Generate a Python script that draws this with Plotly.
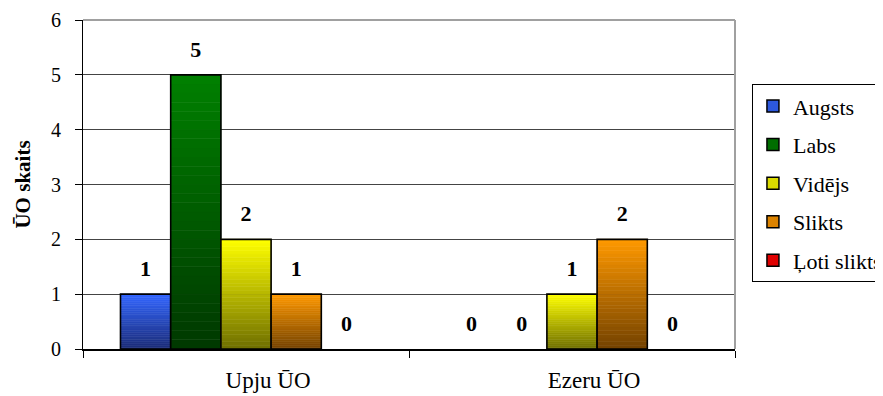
import plotly.graph_objects as go

categories = ["Upju ŪO", "Ezeru ŪO"]
series_names = ["Augsts", "Labs", "Vidējs", "Slikts", "Ļoti slikts"]
augsts = [1, 0]
labs = [5, 0]
videjs = [2, 1]
slikts = [1, 2]
loti_slikts = [0, 0]
y_ticks = [0, 1, 2, 3, 4, 5, 6]

series_values = [augsts, labs, videjs, slikts, loti_slikts]
# (top colour, bottom colour) of each gradient
gradients = [
    ((51, 102, 255), (28, 44, 118)),
    ((0, 128, 0), (0, 56, 0)),
    ((255, 255, 0), (110, 110, 0)),
    ((255, 153, 0), (115, 66, 0)),
    ((255, 0, 0), (128, 0, 0)),
]

FONT = "Liberation Serif"
N_SEG = 30
LABEL_BOX = 0.94


def lerp(c_bottom, c_top, t):
    return "rgb(%d,%d,%d)" % tuple(round(b + (a - b) * t) for a, b in zip(c_top, c_bottom))


fig = go.Figure()

for name, vals, (top, bottom) in zip(series_names, series_values, gradients):
    for i in range(N_SEG):
        col = lerp(bottom, top, (i + 0.5) / N_SEG)
        fig.add_bar(
            x=categories, y=[v / N_SEG for v in vals], base=[v * i / N_SEG for v in vals],
            offsetgroup=name,
            marker=dict(color=col, line=dict(color=col, width=[0.6 if v > 0 else 0 for v in vals])),
            showlegend=False, hoverinfo="skip",
        )
    fig.add_bar(
        x=categories, y=vals, offsetgroup=name,
        marker=dict(color="rgba(0,0,0,0)",
                    line=dict(color="black", width=[1.6 if v > 0 else 0 for v in vals])),
        showlegend=False, hoverinfo="skip",
    )
    fig.add_bar(
        x=categories, y=[LABEL_BOX] * len(vals), base=vals, offsetgroup=name,
        text=[str(v) for v in vals], textposition="inside", insidetextanchor="middle",
        constraintext="none", textangle=0,
        insidetextfont=dict(family=FONT, size=22, color="black", weight="bold"),
        marker=dict(color="rgba(0,0,0,0)", line=dict(width=0)),
        showlegend=False, hoverinfo="skip", cliponaxis=False,
    )
    fig.add_bar(
        x=categories, y=[None] * len(vals), offsetgroup=name, name=name, legendgroup=name,
        marker=dict(color=lerp(bottom, top, 0.75), line=dict(color="black", width=1.5)),
    )

fig.update_layout(
    width=875, height=388,
    margin=dict(l=75, r=148, t=12, b=47, autoexpand=False),
    paper_bgcolor="white", plot_bgcolor="white",
    barmode="group", bargap=0.23, bargroupgap=0,
    font=dict(family=FONT, color="black"),
    legend=dict(
        x=1.026, xanchor="left", y=0.805, yanchor="top",
        bgcolor="white", bordercolor="black", borderwidth=1,
        font=dict(family=FONT, size=22, color="black"),
        tracegroupgap=7, traceorder="grouped",
    ),
    xaxis=dict(
        type="category", showgrid=False, showline=True, linecolor="black", linewidth=2,
        ticks="outside", tickson="boundaries", ticklen=7, tickcolor="black",
        tickfont=dict(family=FONT, size=23), ticklabelstandoff=9, ticklabelshift=22,
    ),
    yaxis=dict(
        range=[0, 6], tickvals=y_ticks, showgrid=True, gridcolor="#444444", gridwidth=1,
        showline=True, linecolor="black", linewidth=1, zeroline=False,
        ticks="outside", ticklen=7, tickcolor="black",
        tickfont=dict(family=FONT, size=20), ticklabelstandoff=10,
        title=dict(text="ŪO skaits", font=dict(family=FONT, size=21, weight="bold"), standoff=14),
    ),
    shapes=[
        dict(type="line", xref="paper", yref="paper", x0=0, x1=1, y0=1, y1=1,
             line=dict(color="#a0a0a0", width=2), layer="above"),
        dict(type="line", xref="paper", yref="paper", x0=1, x1=1, y0=0, y1=1,
             line=dict(color="#a0a0a0", width=2), layer="above"),
    ],
)

fig.write_html("out.html")
